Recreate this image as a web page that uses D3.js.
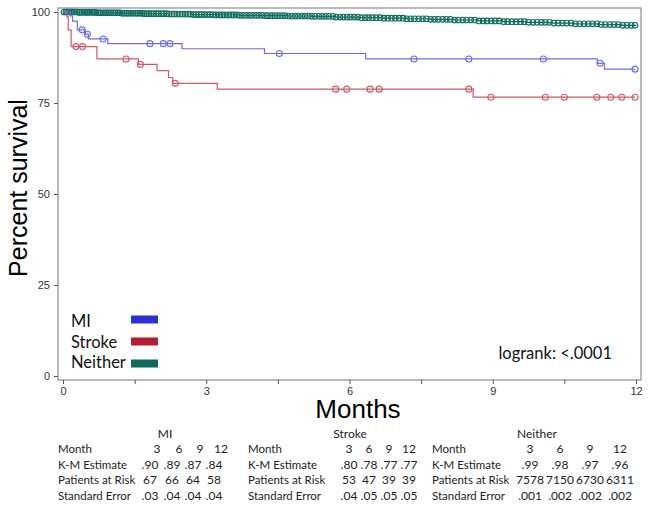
<!DOCTYPE html>
<html lang="en">
<head>
<meta charset="UTF-8">
<title>Kaplan-Meier survival</title>
<style>
  body { margin: 0; background: #fff; }
  svg text { font-family: Lato, "Open Sans", sans-serif; }
</style>
</head>
<body>
<div id="km"></div>
<script src="https://cdn.jsdelivr.net/npm/d3@7"></script>
<script>

// ---- data ----
// step curves: [month, percent surviving]
const miSteps = [[0,100],[0.15,98.9],[0.2,97.5],[0.3,95.1],[0.47,93.9],[0.53,92.6],[0.94,91.3],
  [2.49,89.9],[4.22,88.6],[6.34,87.1],[11.19,85.9],[11.34,84.3],[11.98,84.3]];
const miCensor = [0.40,0.51,0.84,1.82,2.10,2.24,4.53,7.35,8.50,10.06,11.25,11.98];

const strokeSteps = [[0,100],[0.08,98.7],[0.11,95.1],[0.17,90.5],[0.71,87.1],[1.58,85.6],[1.97,83.9],
  [2.21,82.0],[2.30,80.4],[3.23,78.8],[8.59,76.6],[11.98,76.6]];
const strokeCensor = [0.27,0.41,1.32,1.62,2.35,5.71,5.94,6.43,6.62,8.50,8.96,10.10,10.50,11.18,11.47,11.70,11.98];

const neitherSteps = [[0,100],[0.3,99.9],[0.7,99.8],[1.2,99.65],[1.7,99.55],[2.2,99.45],[2.7,99.3],[3.2,99.2],
  [3.7,99.1],[4.2,99.0],[4.7,98.9],[5.2,98.8],[5.7,98.6],[6.2,98.45],[6.7,98.3],[7.2,98.15],[7.7,98.0],
  [8.2,97.8],[8.7,97.55],[9.2,97.35],[9.7,97.15],[10.2,96.95],[10.7,96.75],[11.2,96.55],[11.7,96.35],[12.0,96.2]];
const neitherCensor = [
  0.02,0.06,0.09,0.13,0.17,0.2,0.24,0.29,0.33,0.36,0.4,0.45,0.49,0.52,0.56,0.61,0.65,0.68,0.73,0.77,0.8,0.85,0.89,0.93,0.97,
  1.01,1.06,1.1,1.15,1.19,1.24,1.28,1.33,1.38,1.42,1.47,1.52,1.56,1.61,1.66,1.7,1.75,1.8,1.85,1.9,1.95,
  2.0,2.06,2.11,2.17,2.22,2.28,2.33,2.39,2.45,2.5,2.56,2.62,2.67,2.73,2.79,2.85,2.9,2.96,
  3.02,3.08,3.14,3.2,3.27,3.33,3.39,3.46,3.52,3.58,3.65,3.71,3.78,3.84,3.91,3.97,
  4.04,4.1,4.17,4.24,4.3,4.37,4.44,4.51,4.58,4.65,4.72,4.79,4.86,4.93,
  5.0,5.07,5.14,5.21,5.28,5.36,5.43,5.5,5.57,5.65,5.72,5.8,5.87,5.95,
  6.02,6.1,6.17,6.25,6.33,6.4,6.48,6.56,6.64,6.72,6.8,6.88,6.96,
  7.04,7.12,7.2,7.28,7.36,7.45,7.53,7.61,7.7,7.78,7.86,7.95,
  8.03,8.11,8.2,8.28,8.37,8.45,8.54,8.62,8.71,8.8,8.88,8.97,
  9.05,9.14,9.23,9.31,9.4,9.49,9.58,9.66,9.75,9.84,9.93,
  10.02,10.1,10.19,10.28,10.37,10.46,10.55,10.64,10.73,10.82,10.91,
  11.0,11.09,11.18,11.27,11.36,11.45,11.54,11.63,11.72,11.81,11.9,11.98];

const yTicks = [0,25,50,75,100];
const xTicks = [0,1.5,3,4.5,6,7.5,9,10.5,12];

const groups = ["MI","Stroke","Neither"];
const rowLabels = ["Month","K-M Estimate","Patients at Risk","Standard Error"];
const months = ["3","6","9","12"];
const miEstimate = [".90",".89",".87",".84"];
const miRisk = ["67","66","64","58"];
const miSE = [".03",".04",".04",".04"];
const strokeEstimate = [".80",".78",".77",".77"];
const strokeRisk = ["53","47","39","39"];
const strokeSE = [".04",".05",".05",".05"];
const neitherEstimate = [".99",".98",".97",".96"];
const neitherRisk = ["7578","7150","6730","6311"];
const neitherSE = [".001",".002",".002",".002"];

// ---- layout ----
const margin = {top: 12, right: 13, bottom: 131, left: 63},
    width = 649 - margin.left - margin.right,
    height = 507 - margin.top - margin.bottom;

const svg = d3.select("#km")
  .append("svg")
    .attr("width", 649)
    .attr("height", 507);

const g = svg.append("g")
    .attr("transform", `translate(${margin.left}, ${margin.top})`);

const x = d3.scaleLinear().domain([0, 12]).range([0, width]);
const y = d3.scaleLinear().domain([0, 100]).range([height, 0]);

// frame
g.append("rect")
  .attr("x", -5).attr("y", -4)
  .attr("width", width + 10).attr("height", height + 8)
  .attr("fill", "none").attr("stroke", "#777").attr("stroke-width", 1);

// y axis
const yAxis = g.append("g")
  .attr("transform", "translate(-5,0)")
  .call(d3.axisLeft(y).tickValues(yTicks).tickSize(4).tickPadding(4));
yAxis.select(".domain").remove();
yAxis.selectAll("line").attr("stroke", "#555");
yAxis.selectAll("text").style("font-family", "'Liberation Sans', Arial, sans-serif")
  .style("font-size", "11px").attr("fill", "#333");

// x axis
const xAxis = g.append("g")
  .attr("transform", `translate(0, ${height + 4})`)
  .call(d3.axisBottom(x).tickValues(xTicks).tickSize(4).tickPadding(3)
    .tickFormat(d => Number.isInteger(d) ? d : ""));
xAxis.select(".domain").remove();
xAxis.selectAll("line").attr("stroke", "#555");
xAxis.selectAll("text").style("font-family", "'Liberation Sans', Arial, sans-serif")
  .style("font-size", "11px").attr("fill", "#333");

// axis titles
svg.append("text")
  .attr("transform", "translate(27, 188) rotate(-90)")
  .attr("text-anchor", "middle")
  .style("font-family", "'Liberation Sans', Arial, sans-serif")
  .style("font-size", "25px")
  .text("Percent survival");

svg.append("text")
  .attr("x", 358).attr("y", 418)
  .attr("text-anchor", "middle")
  .style("font-family", "'Liberation Sans', Arial, sans-serif")
  .style("font-size", "26px")
  .text("Months");

// curves
const line = d3.line()
  .x(d => x(d[0]))
  .y(d => y(d[1]))
  .curve(d3.curveStepAfter);

function stepValue(steps, t) {
  let v = steps[0][1];
  steps.forEach(s => { if (s[0] <= t) v = s[1]; });
  return v;
}

const curves = [
  {steps: neitherSteps, censor: neitherCensor, color: "#0e6e5e", r: 2.8},
  {steps: strokeSteps, censor: strokeCensor, color: "#d05865", r: 3},
  {steps: miSteps, censor: miCensor, color: "#6b6bf0", r: 3}
];

curves.forEach(c => {
  g.append("path")
    .datum(c.steps)
    .attr("d", line)
    .attr("fill", "none")
    .attr("stroke", c.color)
    .attr("stroke-width", 1.2);

  g.selectAll(null)
    .data(c.censor)
    .join("circle")
      .attr("cx", d => x(d))
      .attr("cy", d => y(stepValue(c.steps, d)))
      .attr("r", c.r)
      .attr("fill", "none")
      .attr("stroke", c.color)
      .attr("stroke-width", 1.1);
});

// legend
const legendColor = {MI: "#2f2fd8", Stroke: "#b51b2e", Neither: "#0f6b5e"};
svg.selectAll("legendtext")
  .data(groups)
  .join("text")
    .attr("x", 71)
    .attr("y", (d, i) => 327 + i * 20.5)
    .style("font-size", "16.5px")
    .attr("fill", "#111")
    .text(d => d);
svg.selectAll("legendrect")
  .data(groups)
  .join("rect")
    .attr("x", 131)
    .attr("y", (d, i) => 315.5 + i * 22)
    .attr("width", 27)
    .attr("height", 8)
    .attr("fill", d => legendColor[d]);

svg.append("text")
  .attr("x", 612).attr("y", 359)
  .attr("text-anchor", "end")
  .style("font-size", "16.5px")
  .attr("fill", "#111")
  .text("logrank: <.0001");

// tables under the chart
const tables = [
  {name: "MI", rows: [months, miEstimate, miRisk, miSE], labelX: 58, headX: 165,
    cols: [150, 172, 193, 214], monthShift: 7},
  {name: "Stroke", rows: [months, strokeEstimate, strokeRisk, strokeSE], labelX: 248, headX: 350,
    cols: [349, 369, 389, 409], monthShift: 0},
  {name: "Neither", rows: [months, neitherEstimate, neitherRisk, neitherSE], labelX: 432, headX: 537,
    cols: [530, 560, 590, 620], monthShift: 0}
];
const rowY = [453, 468.5, 484, 499.5];

tables.forEach(t => {
  const tg = svg.append("g").style("font-size", "11.5px").attr("fill", "#222");
  tg.append("text").attr("x", t.headX).attr("y", 438)
    .attr("text-anchor", "middle").style("font-size", "12px").text(t.name);
  tg.selectAll(null).data(rowLabels).join("text")
    .attr("x", t.labelX).attr("y", (d, i) => rowY[i]).text(d => d);
  t.rows.forEach((row, ri) => {
    tg.selectAll(null).data(row).join("text")
      .attr("x", (d, i) => t.cols[i] + (ri === 0 ? t.monthShift : 0))
      .attr("y", rowY[ri])
      .attr("text-anchor", "middle")
      .style("font-size", "12px")
      .text(d => d);
  });
});

</script>
</body>
</html>
